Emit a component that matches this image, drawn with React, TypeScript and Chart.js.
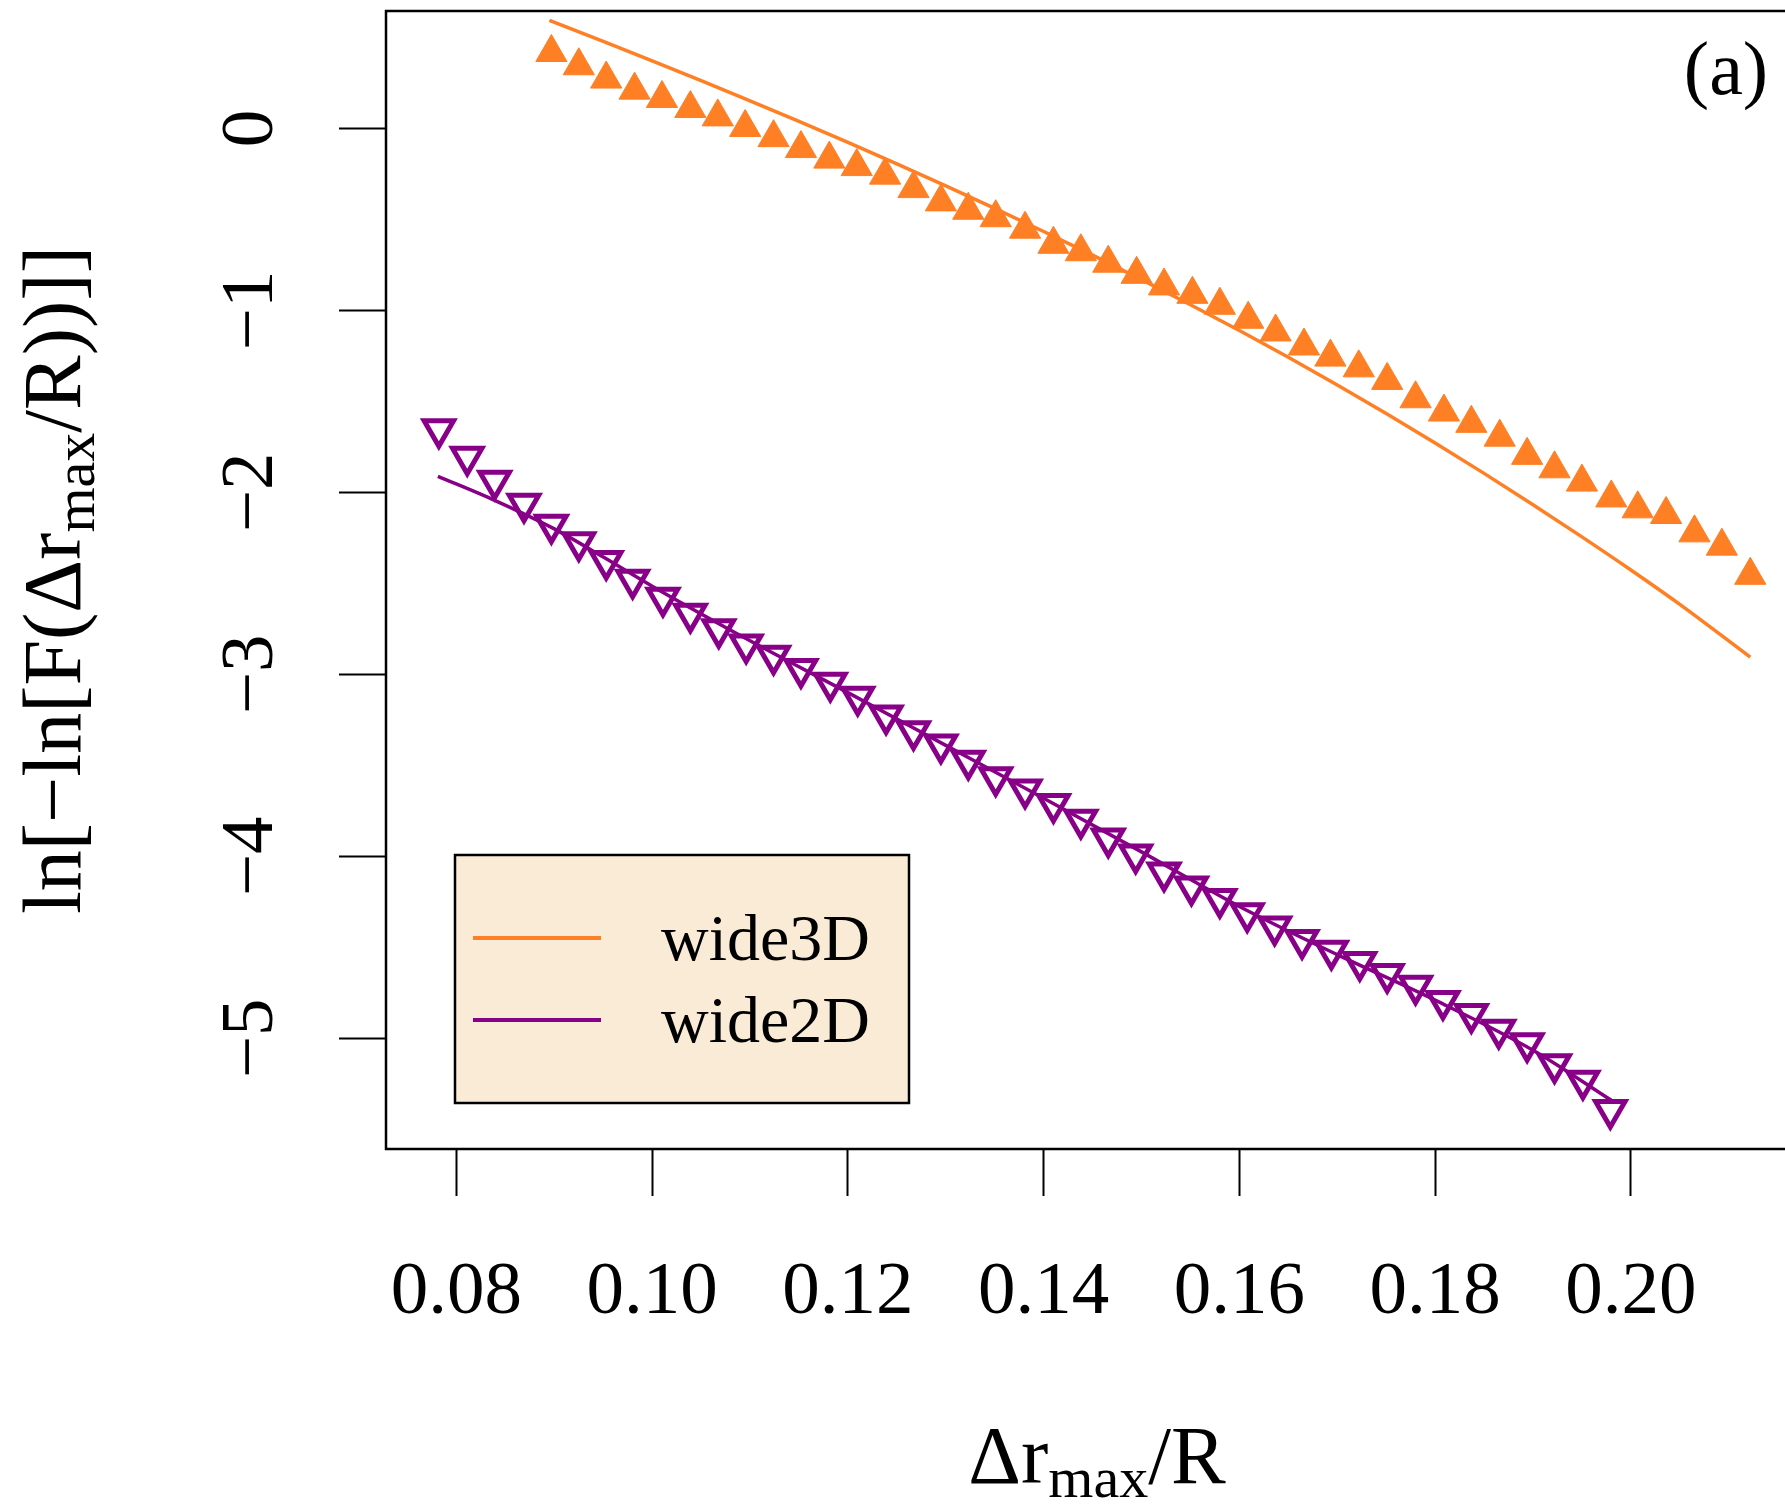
import React, { useEffect, useRef } from 'react';
import { Chart, registerables } from 'chart.js';

Chart.register(...registerables);

const FONT = "'Liberation Serif', 'Times New Roman', serif";
const ORANGE = '#FF7F24';
const PURPLE = '#870087';

// ---- data ----
const seriesNames = ['wide3D', 'wide2D'];
const panelLabel = '(a)';

const xTickValues = [0.08, 0.10, 0.12, 0.14, 0.16, 0.18, 0.20];
const yTickValues = [0, -1, -2, -3, -4, -5];
const xLimits = [0.0728, 0.2181];
const yLimits = [-5.608, 0.646];

// wide3D points (filled up-triangles)
const wide3DX = [0.0897, 0.0925, 0.0953, 0.0982, 0.1010, 0.1039, 0.1067, 0.1095, 0.1124, 0.1152, 0.1181, 0.1209, 0.1238, 0.1267, 0.1295, 0.1323, 0.1351, 0.1381, 0.1410, 0.1438, 0.1466, 0.1495, 0.1523, 0.1552, 0.1580, 0.1609, 0.1637, 0.1666, 0.1693, 0.1722, 0.1751, 0.1780, 0.1809, 0.1837, 0.1866, 0.1894, 0.1922, 0.1950, 0.1980, 0.2007, 0.2036, 0.2065, 0.2093, 0.2122];
const wide3DY = [0.418, 0.345, 0.272, 0.211, 0.165, 0.110, 0.064, 0.006, -0.050, -0.110, -0.168, -0.209, -0.256, -0.330, -0.403, -0.449, -0.490, -0.553, -0.636, -0.677, -0.740, -0.801, -0.865, -0.911, -0.971, -1.048, -1.118, -1.195, -1.256, -1.315, -1.384, -1.485, -1.558, -1.620, -1.696, -1.796, -1.870, -1.943, -2.030, -2.090, -2.121, -2.222, -2.295, -2.455];

// wide2D points (open down-triangles)
const wide2DX = [0.0782, 0.0811, 0.0839, 0.0869, 0.0897, 0.0925, 0.0953, 0.0980, 0.1011, 0.1039, 0.1068, 0.1096, 0.1124, 0.1152, 0.1182, 0.1210, 0.1239, 0.1267, 0.1295, 0.1323, 0.1351, 0.1381, 0.1410, 0.1438, 0.1466, 0.1494, 0.1523, 0.1551, 0.1580, 0.1608, 0.1636, 0.1664, 0.1694, 0.1723, 0.1751, 0.1780, 0.1808, 0.1837, 0.1865, 0.1894, 0.1922, 0.1951, 0.1979];
const wide2DY = [-1.653, -1.804, -1.935, -2.062, -2.177, -2.273, -2.376, -2.480, -2.578, -2.667, -2.752, -2.835, -2.897, -2.970, -3.046, -3.123, -3.226, -3.312, -3.385, -3.474, -3.565, -3.633, -3.712, -3.798, -3.902, -3.990, -4.088, -4.165, -4.234, -4.312, -4.385, -4.460, -4.519, -4.580, -4.646, -4.711, -4.794, -4.866, -4.953, -5.027, -5.142, -5.233, -5.393];

// fitted curves
const fit3DX = [0.0895, 0.095, 0.100, 0.105, 0.110, 0.115, 0.120, 0.125, 0.130, 0.135, 0.140, 0.145, 0.150, 0.155, 0.160, 0.165, 0.170, 0.175, 0.180, 0.185, 0.190, 0.195, 0.200, 0.205, 0.2122];
const fit3DY = [0.595, 0.479, 0.372, 0.263, 0.152, 0.039, -0.076, -0.194, -0.315, -0.439, -0.566, -0.696, -0.830, -0.968, -1.110, -1.257, -1.409, -1.566, -1.728, -1.895, -2.067, -2.244, -2.426, -2.615, -2.905];
const fit2DX = [0.0781, 0.0839, 0.090, 0.095, 0.100, 0.110, 0.120, 0.130, 0.140, 0.150, 0.160, 0.170, 0.180, 0.190, 0.198];
const fit2DY = [-1.911, -2.043, -2.200, -2.355, -2.515, -2.815, -3.100, -3.390, -3.680, -3.975, -4.275, -4.540, -4.790, -5.065, -5.340];

const zip = (xs: number[], ys: number[]) => xs.map((x, i) => ({ x, y: ys[i] }));

type Part = { t: string; s: number; dy: number };
const xTitleParts: Part[] = [
  { t: 'Δr', s: 82, dy: 0 },
  { t: 'max', s: 58, dy: 14 },
  { t: '/R', s: 82, dy: 0 },
];
const yTitleParts: Part[] = [
  { t: 'ln[−ln[F(Δr', s: 82, dy: 0 },
  { t: 'max', s: 58, dy: 14 },
  { t: '/R))]]', s: 82, dy: 0 },
];

function drawRich(ctx: CanvasRenderingContext2D, parts: Part[], cx: number, baseline: number) {
  const widths = parts.map((p) => {
    ctx.font = `${p.s}px ${FONT}`;
    return ctx.measureText(p.t).width;
  });
  const total = widths.reduce((a, b) => a + b, 0);
  let x = cx - total / 2;
  ctx.textAlign = 'left';
  ctx.textBaseline = 'alphabetic';
  parts.forEach((p, i) => {
    ctx.font = `${p.s}px ${FONT}`;
    ctx.fillText(p.t, x, baseline + p.dy);
    x += widths[i];
  });
}

const decorPlugin = {
  id: 'decor',
  afterDraw(chart: any) {
    const { ctx, chartArea: a } = chart;
    ctx.save();
    ctx.fillStyle = '#000';
    ctx.strokeStyle = '#000';

    // plot box
    ctx.lineWidth = 2.5;
    ctx.strokeRect(a.left, a.top, a.right - a.left, a.bottom - a.top);

    // legend
    const lx = a.left + 69;
    const ly = a.top + 844;
    const lw = 454;
    const lh = 248;
    ctx.fillStyle = '#FAEBD7';
    ctx.fillRect(lx, ly, lw, lh);
    ctx.lineWidth = 2.5;
    ctx.strokeStyle = '#000';
    ctx.strokeRect(lx, ly, lw, lh);
    const colors = [ORANGE, PURPLE];
    const lineYs = [ly + 83, ly + 165];
    const textYs = [ly + 105, ly + 187];
    seriesNames.forEach((name, i) => {
      ctx.strokeStyle = colors[i];
      ctx.lineWidth = 4;
      ctx.beginPath();
      ctx.moveTo(lx + 18, lineYs[i]);
      ctx.lineTo(lx + 146, lineYs[i]);
      ctx.stroke();
      ctx.fillStyle = '#000';
      ctx.font = `66px ${FONT}`;
      ctx.textAlign = 'left';
      ctx.textBaseline = 'alphabetic';
      ctx.fillText(name, lx + 206, textYs[i]);
    });

    // panel label
    ctx.fillStyle = '#000';
    ctx.font = `76px ${FONT}`;
    ctx.textAlign = 'center';
    ctx.textBaseline = 'alphabetic';
    ctx.fillText(panelLabel, a.right - 82, a.top + 83);

    // x title
    drawRich(ctx, xTitleParts, (a.left + a.right) / 2, chart.height - 22);

    // y title (rotated)
    ctx.save();
    ctx.translate(80, (a.top + a.bottom) / 2);
    ctx.rotate(-Math.PI / 2);
    drawRich(ctx, yTitleParts, 0, 0);
    ctx.restore();

    ctx.restore();
  },
};

export default function App() {
  const ref = useRef<HTMLCanvasElement | null>(null);

  useEffect(() => {
    if (!ref.current) return;
    const chart = new Chart(ref.current, {
      type: 'scatter',
      data: {
        datasets: [
          {
            label: seriesNames[0] + ' fit',
            data: zip(fit3DX, fit3DY),
            showLine: true,
            borderColor: ORANGE,
            borderWidth: 3.5,
            pointRadius: 0,
            cubicInterpolationMode: 'monotone',
            fill: false,
            order: 0,
          },
          {
            label: seriesNames[1] + ' fit',
            data: zip(fit2DX, fit2DY),
            showLine: true,
            borderColor: PURPLE,
            borderWidth: 3.5,
            pointRadius: 0,
            cubicInterpolationMode: 'monotone',
            fill: false,
            order: 0,
          },
          {
            label: seriesNames[0],
            data: zip(wide3DX, wide3DY),
            pointStyle: 'triangle',
            pointRadius: 18,
            backgroundColor: ORANGE,
            borderColor: ORANGE,
            borderWidth: 1,
            order: 1,
          },
          {
            label: seriesNames[1],
            data: zip(wide2DX, wide2DY),
            pointStyle: 'triangle',
            pointRotation: 180,
            pointRadius: 17,
            backgroundColor: 'rgba(0,0,0,0)',
            borderColor: PURPLE,
            borderWidth: 5,
            order: 1,
          },
        ],
      },
      options: {
        animation: false,
        responsive: false,
        events: [],
        layout: { autoPadding: false, padding: { top: 11, right: 22, left: 0, bottom: 0 } },
        plugins: {
          legend: { display: false },
          tooltip: { enabled: false },
        },
        scales: {
          x: {
            type: 'linear',
            min: xLimits[0],
            max: xLimits[1],
            afterBuildTicks: (s: any) => {
              s.ticks = xTickValues.map((v) => ({ value: v }));
            },
            afterFit: (s: any) => {
              s.height = 356;
              s.paddingLeft = 0;
              s.paddingRight = 0;
            },
            grid: {
              drawOnChartArea: false,
              drawTicks: true,
              tickLength: 47,
              tickWidth: 2,
              tickColor: '#000',
            },
            border: { display: false },
            ticks: {
              autoSkip: false,
              maxRotation: 0,
              minRotation: 0,
              padding: 52,
              color: '#000',
              font: { family: FONT, size: 75 },
              callback: (v: any) => Number(v).toFixed(2),
            },
          },
          y: {
            type: 'linear',
            min: yLimits[0],
            max: yLimits[1],
            afterBuildTicks: (s: any) => {
              s.ticks = yTickValues.map((v) => ({ value: v }));
            },
            afterFit: (s: any) => {
              s.width = 386;
              s.paddingTop = 0;
              s.paddingBottom = 0;
            },
            grid: {
              drawOnChartArea: false,
              drawTicks: true,
              tickLength: 47,
              tickWidth: 2,
              tickColor: '#000',
            },
            border: { display: false },
            ticks: {
              autoSkip: false,
              minRotation: 90,
              maxRotation: 90,
              crossAlign: 'center',
              padding: 47,
              color: '#000',
              font: { family: FONT, size: 75 },
              callback: (v: any) => {
                const n = Number(v);
                return n === 0 ? '0' : (n < 0 ? '−' : '') + String(Math.abs(Math.round(n)));
              },
            },
          },
        },
      },
      plugins: [decorPlugin],
    } as any);
    return () => chart.destroy();
  }, []);

  return (
    <div
      style={{
        position: 'absolute',
        left: 0,
        top: 0,
        width: 1785,
        height: 1505,
        overflow: 'hidden',
        background: '#fff',
      }}
    >
      <canvas ref={ref} width={1830} height={1505} style={{ display: 'block' }} />
    </div>
  );
}
